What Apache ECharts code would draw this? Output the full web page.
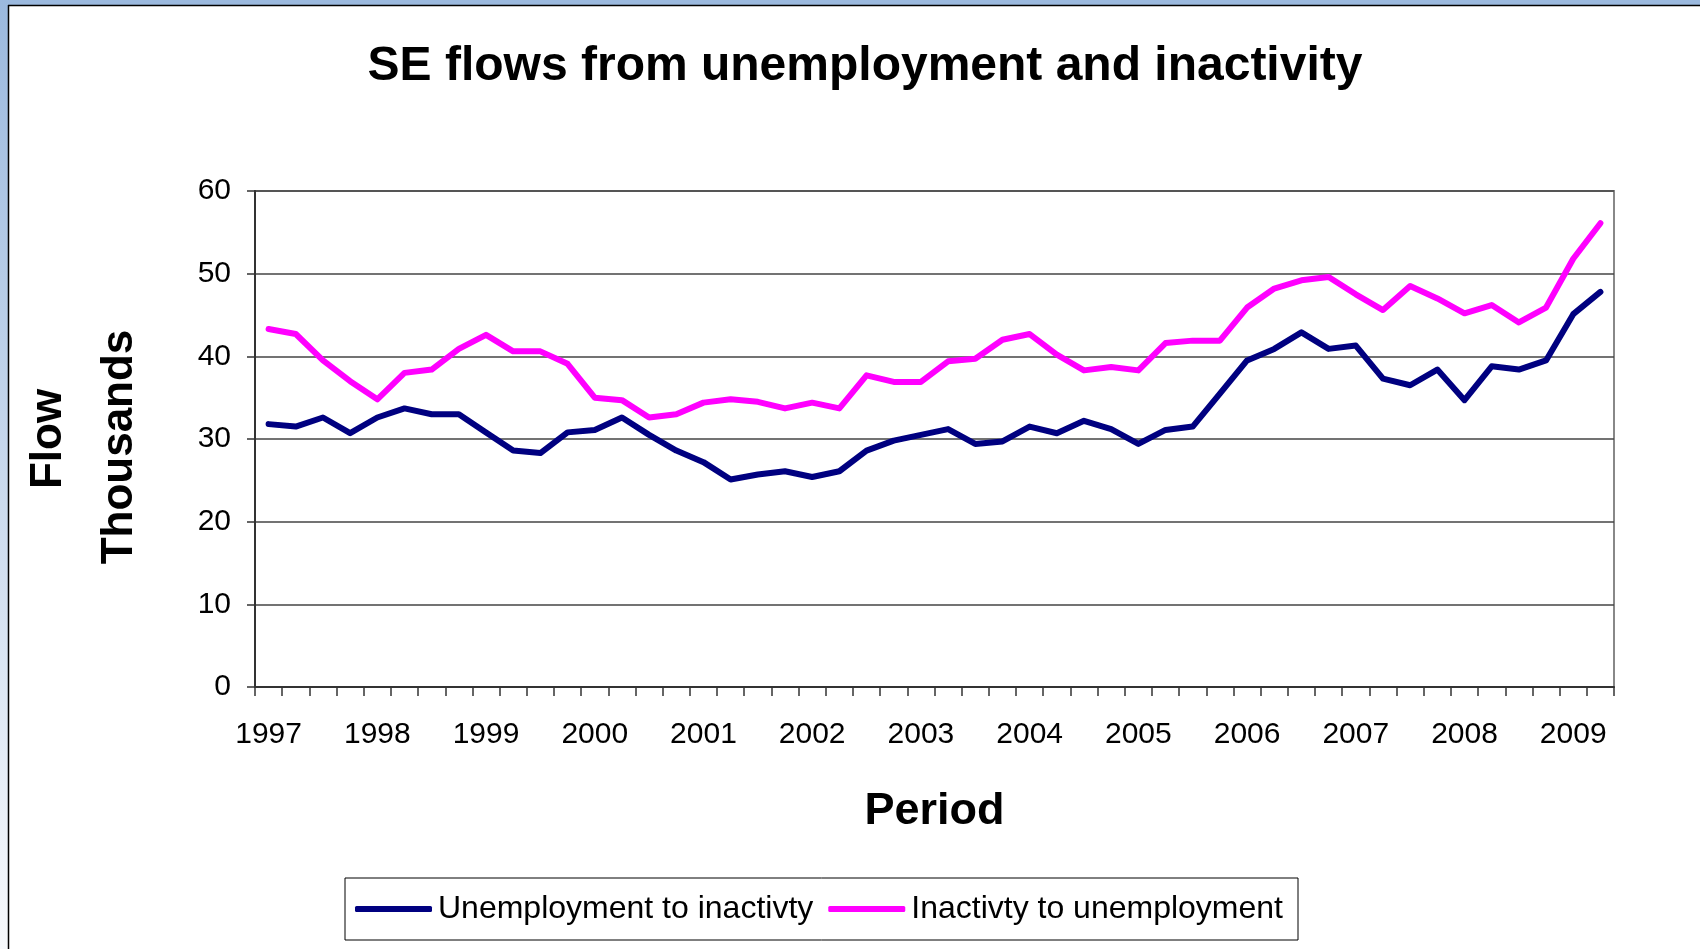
<!DOCTYPE html>
<html>
<head>
<meta charset="utf-8">
<script src="https://cdn.jsdelivr.net/npm/echarts@6/dist/echarts.min.js"></script>
<style>
html,body{margin:0;padding:0;background:#fff;}
#chart{width:1700px;height:949px;}
</style>
</head>
<body>
<div id="chart"></div>
<script>
// Tick labels (one per year, first quarter)
const years = ['1997','1998','1999','2000','2001','2002','2003','2004','2005','2006','2007','2008','2009'];
const quarters = ['Q1','Q2','Q3','Q4'];
const quarterCount = 50; // 1997 Q1 .. 2009 Q2

// Series values (thousands)
const unemploymentToInactivity = [
  31.8, 31.5, 32.6, 30.7, 32.6, 33.7, 33.0, 33.0, 30.8, 28.6, 28.3, 30.8,
  31.1, 32.6, 30.5, 28.6, 27.2, 25.1, 25.7, 26.1, 25.4, 26.1, 28.6, 29.8,
  30.5, 31.2, 29.4, 29.7, 31.5, 30.7, 32.2, 31.2, 29.4, 31.1, 31.5, 35.5,
  39.5, 40.9, 42.9, 40.9, 41.3, 37.3, 36.5, 38.4, 34.7, 38.8, 38.4, 39.5,
  45.1, 47.8
];
const inactivityToUnemployment = [
  43.3, 42.7, 39.5, 37.0, 34.8, 38.0, 38.4, 40.9, 42.6, 40.6, 40.6, 39.1,
  35.0, 34.7, 32.6, 33.0, 34.4, 34.8, 34.5, 33.7, 34.4, 33.7, 37.7, 36.9,
  36.9, 39.4, 39.7, 42.0, 42.7, 40.2, 38.3, 38.7, 38.3, 41.6, 41.9, 41.9,
  45.9, 48.2, 49.2, 49.6, 47.5, 45.6, 48.5, 47.0, 45.2, 46.2, 44.1, 45.9,
  51.8, 56.1
];
const seriesNames = ['Unemployment to inactivty', 'Inactivty to unemployment'];

const categories = [];
for (let i = 0; i < quarterCount; i++) {
  categories.push(years[Math.floor(i / 4)] + ' ' + quarters[i % 4]);
}

const chart = echarts.init(document.getElementById('chart'), null, {renderer: 'canvas'});
const FONT = '"Liberation Sans", Arial, sans-serif';

chart.setOption({
  animation: false,
  backgroundColor: '#ffffff',
  title: {
    text: 'SE flows from unemployment and inactivity',
    left: 865,
    textAlign: 'center',
    top: 43,
    padding: 0,
    textStyle: {fontFamily: FONT, fontSize: 48, fontWeight: 'bold', color: '#000'}
  },
  legend: {
    left: 345,
    top: 878,
    padding: [15, 15, 15, 10],
    itemGap: 15,
    itemWidth: 77,
    itemHeight: 6,
    icon: 'roundRect',
    borderColor: '#000',
    borderWidth: 1,
    textStyle: {fontFamily: FONT, fontSize: 32, color: '#000', padding: [0, 0, 0, 1]},
    data: seriesNames
  },
  grid: {
    left: 255, right: 86, top: 191, bottom: 262,
    show: true, borderColor: '#888', borderWidth: 2, backgroundColor: '#fff'
  },
  graphic: [
    {type: 'rect', shape: {x: 0, y: 0, width: 1700, height: 5}, style: {fill: '#9BB9DE'}, silent: true},
    {type: 'rect', shape: {x: 0, y: 0, width: 8, height: 949},
      style: {fill: new echarts.graphic.LinearGradient(0, 0, 0, 1, [{offset: 0, color: '#9BB9DE'}, {offset: 1, color: '#F7F9FC'}])}, silent: true},
    {type: 'line', shape: {x1: 8.5, y1: 5, x2: 8.5, y2: 949}, style: {stroke: '#000', lineWidth: 1.5}, silent: true},
    {type: 'line', shape: {x1: 8, y1: 5.5, x2: 1700, y2: 5.5}, style: {stroke: '#000', lineWidth: 1.5}, silent: true},
    {type: 'text', x: 49, y: 439, rotation: Math.PI / 2,
      style: {text: 'Flow', fontFamily: FONT, fontSize: 44, fontWeight: 'bold', fill: '#000', align: 'center', verticalAlign: 'middle'}},
    {type: 'text', x: 120, y: 447, rotation: Math.PI / 2,
      style: {text: 'Thousands', fontFamily: FONT, fontSize: 44, fontWeight: 'bold', fill: '#000', align: 'center', verticalAlign: 'middle'}}
  ],
  xAxis: {
    type: 'category',
    data: categories,
    boundaryGap: true,
    name: 'Period',
    nameLocation: 'middle',
    nameGap: 102,
    nameTextStyle: {fontFamily: FONT, fontSize: 45, fontWeight: 'bold', color: '#000'},
    axisLine: {lineStyle: {color: '#333', width: 2}},
    axisTick: {show: true, interval: 0, length: 9, inside: false, lineStyle: {color: '#333', width: 1.5}},
    axisLabel: {
      interval: 3,
      margin: 33,
      fontFamily: FONT, fontSize: 30, color: '#000',
      formatter: function (v) { return v.split(' ')[0]; }
    },
    splitLine: {show: false}
  },
  yAxis: {
    type: 'value',
    min: 0, max: 60, interval: 10,
    axisLine: {show: true, lineStyle: {color: '#333', width: 2}},
    axisTick: {show: true, length: 8, lineStyle: {color: '#333', width: 1.5}},
    axisLabel: {margin: 24, fontFamily: FONT, fontSize: 30, color: '#000'},
    splitLine: {show: true, lineStyle: {color: '#444', width: 1.5}}
  },
  series: [
    {
      name: seriesNames[0], type: 'line', data: unemploymentToInactivity,
      showSymbol: false, symbol: 'none',
      lineStyle: {color: '#000080', width: 6, cap: 'round', join: 'round'},
      itemStyle: {color: '#000080'}
    },
    {
      name: seriesNames[1], type: 'line', data: inactivityToUnemployment,
      showSymbol: false, symbol: 'none',
      lineStyle: {color: '#FF00FF', width: 6, cap: 'round', join: 'round'},
      itemStyle: {color: '#FF00FF'}
    }
  ]
});
</script>
</body>
</html>
